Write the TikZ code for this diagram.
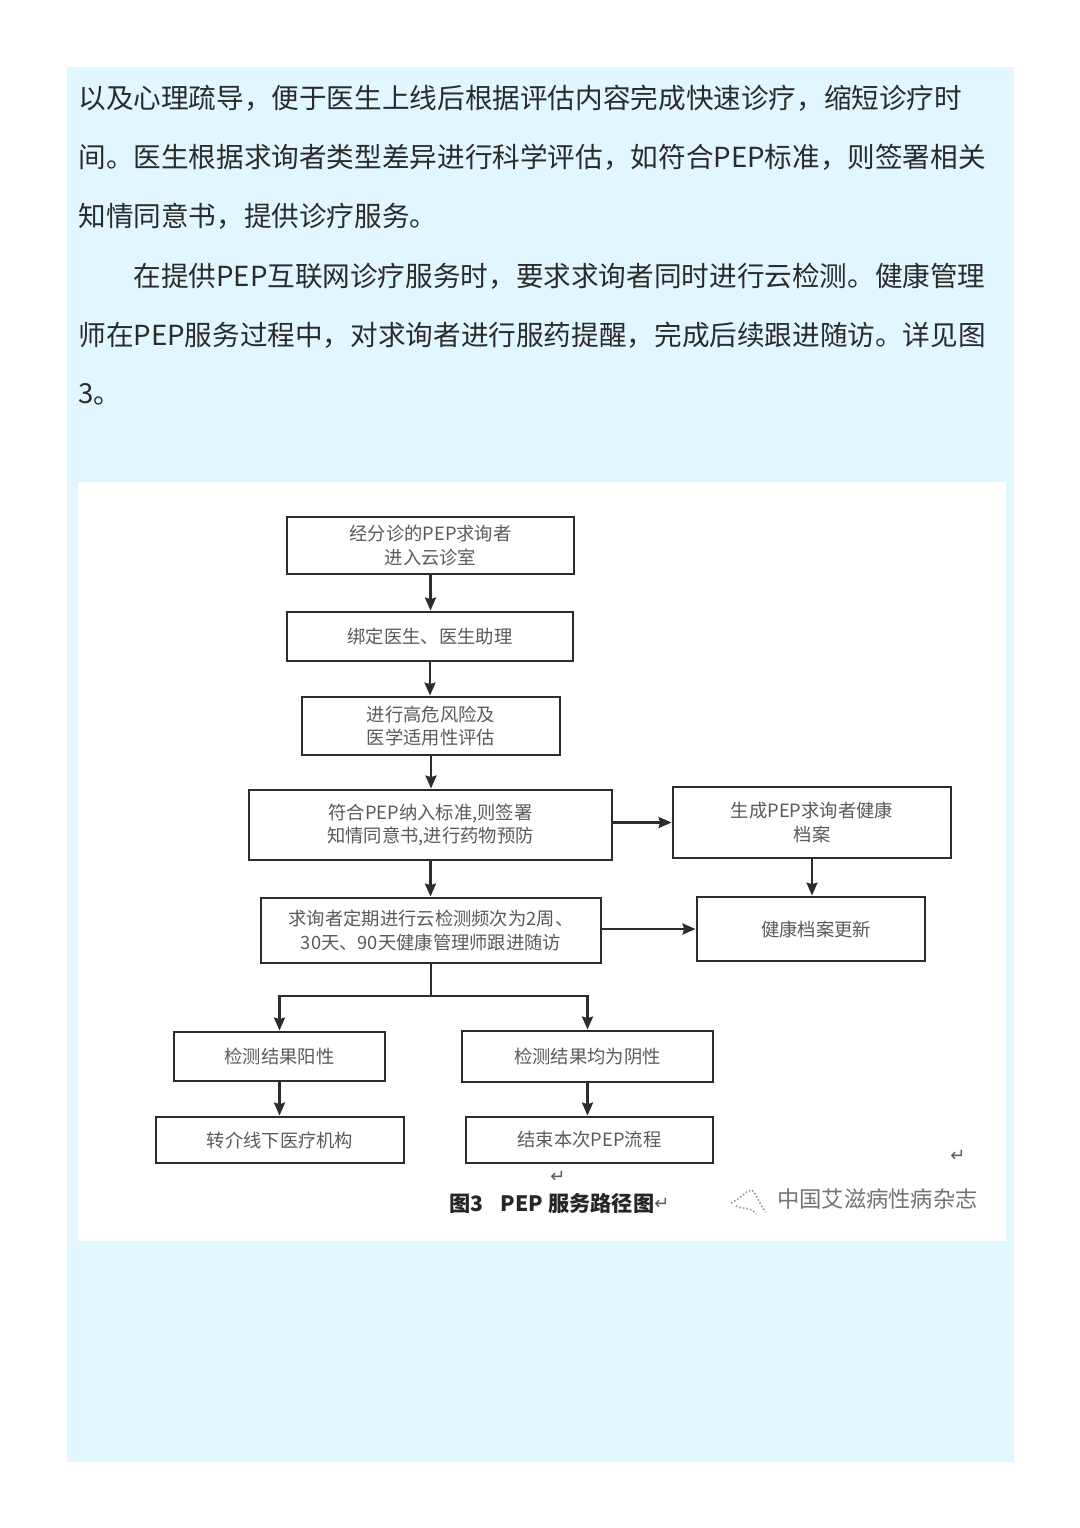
\documentclass[tikz,border=0pt]{standalone}
\usepackage{fontspec}
\setmainfont{Noto Sans CJK SC}
\usetikzlibrary{arrows.meta}
\definecolor{panelblue}{HTML}{E1F6FF}
\definecolor{bodyink}{HTML}{2B2B2B}
\definecolor{figink}{HTML}{5A5A5A}
\definecolor{lineink}{HTML}{2C2C2C}
\tikzset{
  x=0.5pt,y=-0.5pt,
  bodyline/.style={anchor=west,inner sep=0pt,text=bodyink,font=\fontsize{13.81}{16}\selectfont},
  flowbox/.style={draw=lineink,line width=1.45pt,fill=white,align=center,inner sep=0pt,text=figink,
    font=\fontsize{9.15}{11.9}\selectfont},
  flowarrow/.style={draw=lineink,line width=1.25pt,-{Stealth[length=6.5pt,width=5.5pt,inset=0.8pt]}},
  flowline/.style={draw=lineink,line width=1.25pt},
  retmark/.style={inner sep=0pt,text=figink,font={\fontspec{DejaVu Sans}\fontsize{9}{10}\selectfont}},
}
\newcommand{\fbx}[7]{\node[flowbox,minimum width=#3*0.5pt-#2*0.5pt,minimum height=#5*0.5pt-#4*0.5pt] (#1) at ({(#2+#3)/2},{(#4+#5)/2}) {#6};}
\begin{document}
\begin{tikzpicture}
\useasboundingbox (0,0) rectangle (1080,1528);
\fill[white] (0,0) rectangle (1080,1528);
\fill[panelblue] (67,67) rectangle (1014,1462);
\fill[white] (78,482) rectangle (1006,1241);
\node[bodyline] (t1) at (78,98) {以及心理疏导，便于医生上线后根据评估内容完成快速诊疗，缩短诊疗时};
\node[bodyline] (t2) at (78,157) {间。医生根据求询者类型差异进行科学评估，如符合PEP标准，则签署相关};
\node[bodyline] (t3) at (78,216) {知情同意书，提供诊疗服务。};
\node[bodyline] (t4) at (133,276) {在提供PEP互联网诊疗服务时，要求求询者同时进行云检测。健康管理};
\node[bodyline] (t5) at (78,335) {师在PEP服务过程中，对求询者进行服药提醒，完成后续跟进随访。详见图};
\node[bodyline] (t6) at (78,394) {3。};
\fbx{A}{287}{574}{517}{574}{经分诊的PEP求询者\\进入云诊室}{}
\fbx{B}{287}{573}{612}{661}{绑定医生、医生助理}{}
\fbx{C}{302}{560}{697}{755}{进行高危风险及\\医学适用性评估}{}
\fbx{D}{249}{612}{790}{860}{符合PEP纳入标准,则签署\\知情同意书,进行药物预防}{}
\fbx{E}{673}{951}{787}{858}{生成PEP求询者健康\\档案}{}
\fbx{F}{261}{601}{898}{963}{求询者定期进行云检测频次为2周、\\30天、90天健康管理师跟进随访}{}
\fbx{G}{697}{925}{897}{961}{\hspace{5pt}健康档案更新}{}
\fbx{H}{174}{385}{1032}{1081}{检测结果阳性}{}
\fbx{I}{462}{713}{1031}{1082}{检测结果均为阴性}{}
\fbx{J}{156}{404}{1117}{1163}{转介线下医疗机构}{}
\fbx{K}{466}{713}{1117}{1163}{结束本次PEP流程}{}
\coordinate (split) at (431,996);
\draw[flowarrow] (A.south) -- (A.south |- B.north);
\draw[flowarrow] (B.south) -- (B.south |- C.north);
\draw[flowarrow] (C.south) -- (C.south |- D.north);
\draw[flowarrow] (D.south) -- (D.south |- F.north);
\draw[flowarrow] (D.east |- E.west) -- (E.west);
\draw[flowarrow] (F.east |- G.west) -- (G.west);
\draw[flowarrow] (E.south) -- (E.south |- G.north);
\draw[flowline] (F.south) -- (split);
\draw[flowarrow] (split) -| (H.north);
\draw[flowarrow] (split) -| (I.north);
\draw[flowarrow] (H.south) -- (H.south |- J.north);
\draw[flowarrow] (I.south) -- (I.south |- K.north);
\node[inner sep=0pt,text=black!85,font=\fontsize{10.6}{12}\selectfont\bfseries] (cap) at (552,1203) {图3\hspace{0.8em}PEP 服务路径图};
\node[retmark] (r1) at (558,1177) {↵};
\node[retmark] (r2) at (662,1204) {↵};
\node[retmark] (r3) at (958,1156) {↵};
\node[inner sep=0pt,text=black!55,font=\fontsize{11.15}{13}\selectfont] (wm) at (877.5,1199) {中国艾滋病性病杂志};
\draw[black!40,densely dotted,line width=0.8pt] (731,1203) .. controls (742,1198) and (746,1190) .. (752,1190) .. controls (758,1196) and (760,1206) .. (766,1212);
\draw[black!40,densely dotted,line width=0.8pt] (736,1206) .. controls (744,1210) and (750,1206) .. (756,1214);
\end{tikzpicture}
\end{document}
